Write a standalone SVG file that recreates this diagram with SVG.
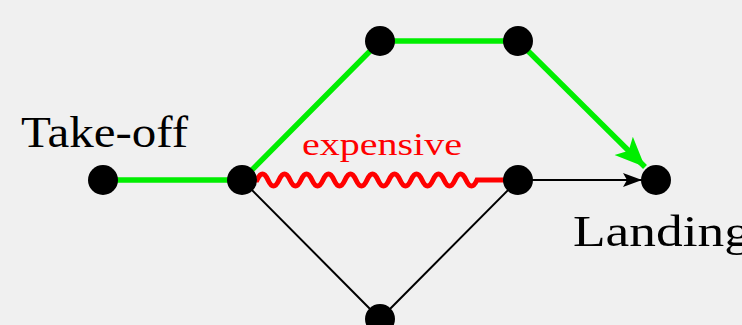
<svg xmlns="http://www.w3.org/2000/svg" width="742" height="325" viewBox="0 0 742 325">
<style>
.node{fill:#000}
.lbl{font-family:"Liberation Serif","DejaVu Serif",serif;fill:#000}
.green{stroke:#00ee00;stroke-width:5.5;fill:none}
.thin{stroke:#000;stroke-width:2;fill:none}
</style>
<defs>
<marker id="ga" markerUnits="userSpaceOnUse" markerWidth="32" markerHeight="28" refX="30" refY="13" orient="auto" viewBox="0 0 32 26">
<path d="M0,0 L30,13 L0,26 L7,13 Z" fill="#00ee00"/>
</marker>
<marker id="ba" markerUnits="userSpaceOnUse" markerWidth="20" markerHeight="14" refX="19" refY="7" orient="auto" viewBox="0 0 20 14">
<path d="M0,0 L19,7 L0,14 L4,7 Z" fill="#000"/>
</marker>
</defs>
<rect width="742" height="325" fill="#f0f0f0"/>
<g id="connectors">
<line class="green" x1="103" y1="180" x2="242" y2="180"/>
<polyline class="green" points="242,180 380,41 518,41"/>
<line class="green" x1="518" y1="41" x2="645" y2="167" marker-end="url(#ga)"/>
<path d="M242,180 L257,180 q5.5,-12 11,0 t11,0 t11,0 t11,0 t11,0 t11,0 t11,0 t11,0 t11,0 t11,0 t11,0 t11,0 t11,0 t11,0 t11,0 t11,0 t11,0 t11,0 t11,0 t11,0 L518,180" stroke="#ff0000" stroke-width="5" fill="none"/>
<line class="thin" x1="518" y1="180" x2="642" y2="180" marker-end="url(#ba)"/>
<polyline class="thin" points="242,180 380,319 518,180"/>
</g>
<g id="takeoff"><circle class="node" cx="103" cy="180" r="15"/><text class="lbl" x="21" y="147" font-size="44" textLength="167" lengthAdjust="spacingAndGlyphs">Take-off</text></g>
<g id="n1"><circle class="node" cx="242" cy="180" r="15"/></g>
<g id="n2"><circle class="node" cx="380" cy="41" r="15"/></g>
<g id="n3"><circle class="node" cx="518" cy="41" r="15"/></g>
<g id="n4"><circle class="node" cx="518" cy="180" r="15"/></g>
<g id="n5"><circle class="node" cx="380" cy="319" r="15"/></g>
<g id="landing"><circle class="node" cx="656" cy="180" r="15"/><text class="lbl" x="573" y="246" font-size="44" textLength="178" lengthAdjust="spacingAndGlyphs">Landing</text></g>
<g id="expensive-label"><text x="302" y="155" font-size="31" textLength="160" lengthAdjust="spacingAndGlyphs" font-family="Liberation Serif, DejaVu Serif, serif" fill="#ff0000">expensive</text></g>
</svg>
